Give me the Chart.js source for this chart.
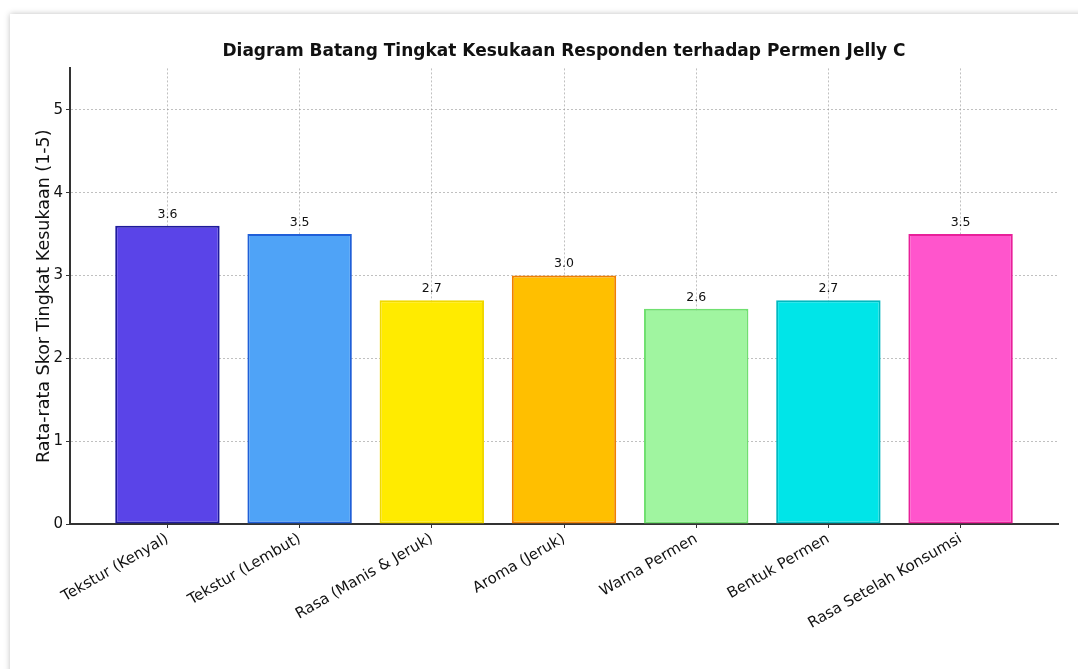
<!DOCTYPE html>
<html>
<head>
<meta charset="utf-8">
<script src="https://cdn.jsdelivr.net/npm/chart.js@4"></script>
<style>
  html, body { margin: 0; padding: 0; background: #fff; }
  #card {
    position: absolute; left: 10px; top: 14px; width: 1080px; height: 670px;
    background: #fff; box-shadow: 0 0 6px rgba(0, 0, 0, 0.25);
  }
  #wrap { position: absolute; left: 0; top: 0; width: 1078px; height: 669px; }
</style>
</head>
<body>
<div id="card"></div>
<div id="wrap"><canvas id="kesukaan"></canvas></div>
<script>
// data
const categories = [
  'Tekstur (Kenyal)',
  'Tekstur (Lembut)',
  'Rasa (Manis & Jeruk)',
  'Aroma (Jeruk)',
  'Warna Permen',
  'Bentuk Permen',
  'Rasa Setelah Konsumsi'
];
const scores = [3.6, 3.5, 2.7, 3.0, 2.6, 2.7, 3.5];
const yTicks = [0, 1, 2, 3, 4, 5];

const fillColors = ['#5a44e8', '#4fa3f7', '#ffeb00', '#ffbf00', '#a0f5a0', '#00e5e8', '#ff55cc'];
const edgeColors = ['#1e1a9c', '#1f5fd8', '#f0d800', '#f08000', '#70e070', '#00b8c0', '#e8209a'];

const FONT = "'DejaVu Sans', sans-serif";

// value labels above each bar
const valueLabels = {
  id: 'valueLabels',
  afterDatasetsDraw(chart) {
    const ctx = chart.ctx;
    const meta = chart.getDatasetMeta(0);
    ctx.save();
    ctx.font = '12.5px ' + FONT;
    ctx.fillStyle = '#111';
    ctx.textAlign = 'center';
    ctx.textBaseline = 'bottom';
    meta.data.forEach((bar, i) => {
      ctx.fillText(scores[i].toFixed(1), bar.x, bar.y - 5);
    });
    ctx.restore();
  }
};

const config = {
  type: 'bar',
  data: {
    datasets: [{
      data: scores.map((v, i) => ({ x: i, y: v })),
      backgroundColor: fillColors,
      borderColor: edgeColors,
      borderWidth: 2,
      borderSkipped: false,
      barPercentage: 0.79,
      categoryPercentage: 1
    }]
  },
  options: {
    responsive: true,
    maintainAspectRatio: false,
    animation: false,
    layout: { padding: { left: 0, right: 20, top: 0, bottom: 0 } },
    scales: {
      x: {
        type: 'linear',
        min: -0.737,
        max: 6.737,
        offset: false,
        z: 1,
        afterBuildTicks: (scale) => {
          scale.ticks = categories.map((c, i) => ({ value: i }));
        },
        afterFit: (scale) => { scale.height = 145; },
        ticks: {
          autoSkip: false,
          minRotation: 30,
          maxRotation: 30,
          padding: 2,
          color: '#111',
          font: { family: FONT, size: 15 },
          callback: (value) => categories[value]
        },
        grid: {
          offset: false,
          color: 'rgba(150,150,150,0.6)',
          tickColor: '#333',
          tickLength: 4,
          lineWidth: 1
        },
        border: { display: true, color: '#333', width: 2, dash: [2, 2] }
      },
      y: {
        min: 0,
        max: 5.5,
        z: 1,
        afterBuildTicks: (scale) => {
          scale.ticks = yTicks.map(v => ({ value: v }));
        },
        afterFit: (scale) => { scale.width = 70; },
        ticks: {
          padding: 3,
          color: '#111',
          font: { family: FONT, size: 15 }
        },
        grid: {
          color: 'rgba(150,150,150,0.6)',
          tickColor: '#333',
          tickLength: 4,
          lineWidth: 1
        },
        border: { display: true, color: '#333', width: 2, dash: [2, 2] },
        title: {
          display: true,
          text: 'Rata-rata Skor Tingkat Kesukaan (1-5)',
          color: '#111',
          font: { family: FONT, size: 17.5 },
          padding: { top: 34, bottom: 0 }
        }
      }
    },
    plugins: {
      legend: { display: false },
      tooltip: { enabled: false },
      title: {
        display: true,
        fullSize: false,
        text: 'Diagram Batang Tingkat Kesukaan Responden terhadap Permen Jelly C',
        color: '#111',
        font: { family: FONT, size: 17, weight: 'bold' },
        padding: { top: 41, bottom: 7 }
      }
    }
  },
  plugins: [valueLabels]
};

new Chart(document.getElementById('kesukaan'), config);
</script>
</body>
</html>
